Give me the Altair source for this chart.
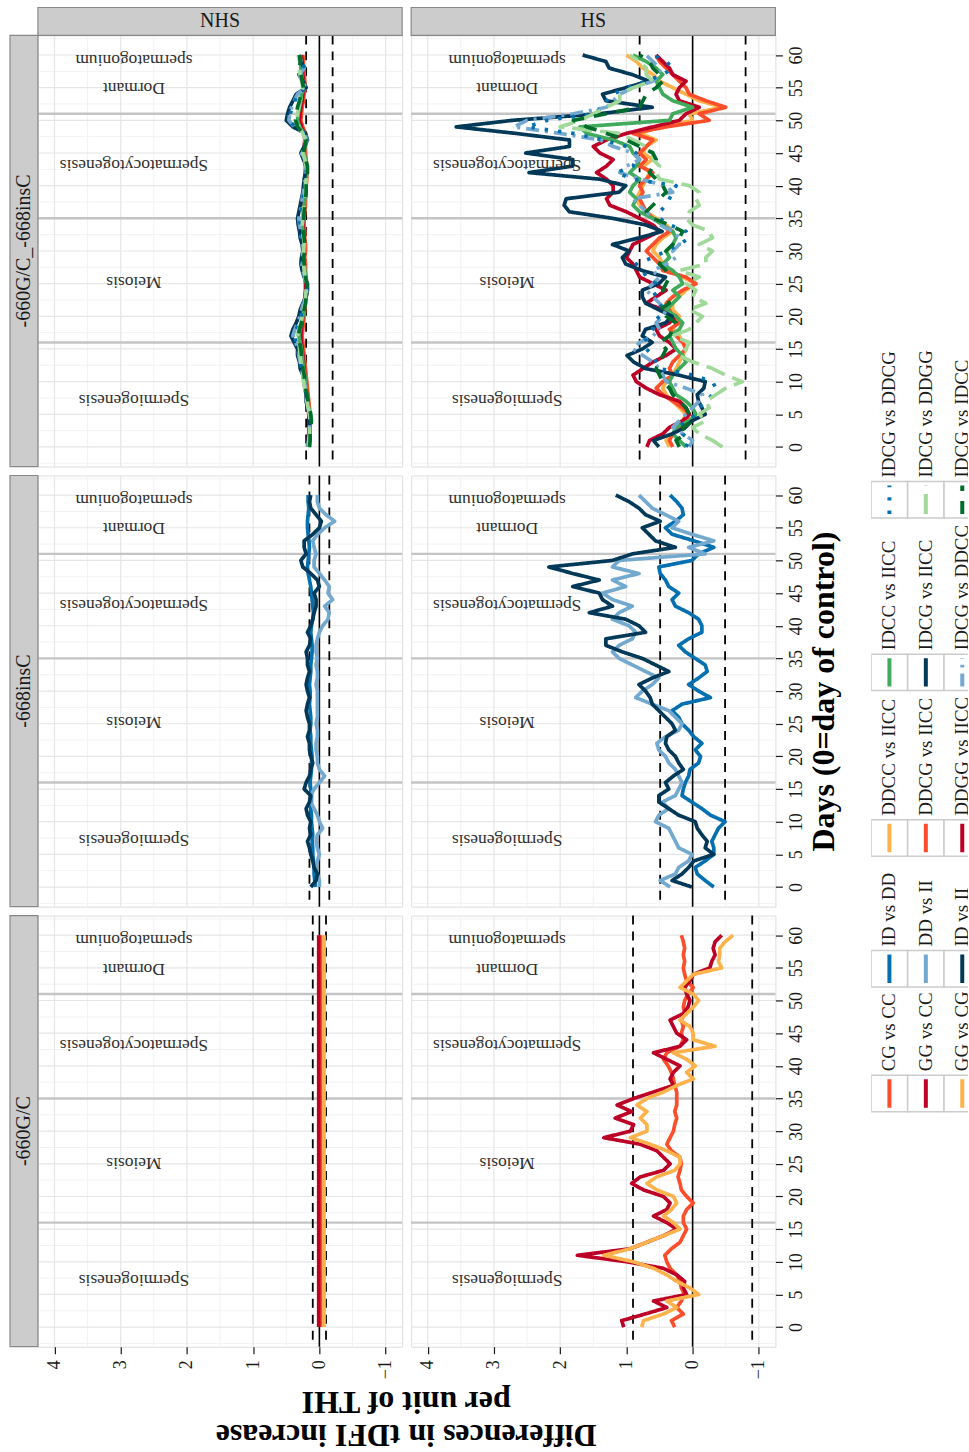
import altair as alt
import pandas as pd

FONT = "Liberation Serif"

DAYS = list(range(61))

GENOTYPES = ["-660G/C_-668insC", "-668insC", "-660G/C"]   # panel rows, top to bottom
CONDITIONS = ["NHS", "HS"]                               # panel columns, left to right

SERIES_660 = ["CG vs CC", "GG vs CC", "GG vs CG"]
SERIES_668 = ["ID vs DD", "DD vs II", "ID vs II"]
SERIES_COMBO = ["DDCC vs IICC", "DDCG vs IICC", "DDGG vs IICC", "IDCC vs IICC", "IDCG vs IICC",
                "IDCG vs DDCC", "IDCG vs DDCG", "IDCG vs DDGG", "IDCG vs IDCC"]
ALL_SERIES = SERIES_660 + SERIES_668 + SERIES_COMBO
COLORS = ["#FC4E2A", "#BD0026", "#FEB24C",
          "#0570B0", "#74A9CF", "#023858",
          "#FEB24C", "#FC4E2A", "#BD0026", "#41AB5D", "#023858",
          "#74A9CF", "#0570B0", "#A1D99B", "#006D2C"]
DASHES = [[1, 0], [1, 0], [1, 0],
          [1, 0], [1, 0], [1, 0],
          [1, 0], [1, 0], [1, 0], [1, 0], [1, 0],
          [13, 6, 3, 6], [3.4, 10], [20, 8], [13, 10]]

# ---------------- -660G/C ----------------
NHS_660_CG_CC = [-0.02, -0.02, -0.02, -0.02, -0.02, -0.02, -0.02, -0.02, -0.02, -0.02, -0.02,
                 -0.02, -0.02, -0.02, -0.02, -0.02, -0.02, -0.02, -0.02, -0.02, -0.02,
                 -0.02, -0.02, -0.02, -0.02, -0.02, -0.02, -0.02, -0.02, -0.02, -0.02,
                 -0.02, -0.02, -0.02, -0.02, -0.02, -0.02, -0.02, -0.02, -0.02, -0.02,
                 -0.02, -0.02, -0.02, -0.02, -0.02, -0.02, -0.02, -0.02, -0.02, -0.02,
                 -0.02, -0.02, -0.02, -0.02, -0.02, -0.02, -0.02, -0.02, -0.02, -0.02]
NHS_660_GG_CC = [0.01, 0.01, 0.01, 0.01, 0.01, 0.01, 0.01, 0.01, 0.01, 0.01, 0.01,
                 0.01, 0.01, 0.01, 0.01, 0.01, 0.01, 0.01, 0.01, 0.01, 0.01,
                 0.01, 0.01, 0.01, 0.01, 0.01, 0.01, 0.01, 0.01, 0.01, 0.01,
                 0.01, 0.01, 0.01, 0.01, 0.01, 0.01, 0.01, 0.01, 0.01, 0.01,
                 0.01, 0.01, 0.01, 0.01, 0.01, 0.01, 0.01, 0.01, 0.01, 0.01,
                 0.01, 0.01, 0.01, 0.01, 0.01, 0.01, 0.01, 0.01, 0.01, 0.01]
NHS_660_GG_CG = [-0.07, -0.07, -0.07, -0.07, -0.07, -0.07, -0.07, -0.07, -0.07, -0.07, -0.07,
                 -0.07, -0.07, -0.07, -0.07, -0.07, -0.07, -0.07, -0.07, -0.07, -0.07,
                 -0.07, -0.07, -0.07, -0.07, -0.07, -0.07, -0.07, -0.07, -0.07, -0.07,
                 -0.07, -0.07, -0.07, -0.07, -0.07, -0.07, -0.07, -0.07, -0.07, -0.07,
                 -0.07, -0.07, -0.07, -0.07, -0.07, -0.07, -0.07, -0.07, -0.07, -0.07,
                 -0.07, -0.07, -0.07, -0.07, -0.07, -0.07, -0.07, -0.07, -0.07, -0.07]
HS_660_CG_CC = [0.27, 0.32, 0.14, 0.24, 0.17, 0.12, 0.17, 0.19, 0.24, 0.34, 0.39,
                0.42, 0.32, 0.19, 0.14, 0.09, 0.14, 0.14, 0.09, -0.01, 0.09,
                0.17, 0.19, 0.22, 0.19, 0.17, 0.19, 0.32, 0.39, 0.34, 0.29,
                0.27, 0.24, 0.27, 0.24, 0.24, 0.24, 0.27, 0.29, 0.32, 0.37,
                0.44, 0.39, 0.19, 0.14, 0.17, 0.14, 0.17, 0.12, 0.14, 0.12,
                0.07, -0.01, 0.09, 0.12, 0.14, 0.12, 0.14, 0.12, 0.14, 0.17]
HS_660_GG_CC = [1.04, 1.07, 0.72, 0.39, 0.59, 0.09, 0.14, 0.12, 0.24, 0.44, 0.99,
                1.74, 0.94, 0.69, 0.44, 0.24, 0.39, 0.59, 0.39, 0.34, 0.44,
                0.74, 0.92, 0.79, 0.44, 0.34, 0.44, 0.54, 0.79, 1.34, 0.94,
                0.89, 1.17, 0.92, 1.14, 0.89, 0.59, 0.29, 0.34, 0.29, 0.19,
                0.39, 0.59, 0.19, 0.09, 0.24, 0.29, 0.34, 0.14, 0.07, 0.04,
                0.09, 0.12, 0.04, -0.01, -0.26, -0.29, -0.34, -0.31, -0.34, -0.44]
HS_660_GG_CG = [0.77, 0.74, 0.44, 0.24, 0.39, -0.09, 0.04, 0.24, 0.39, 0.59, 0.89,
                1.34, 0.94, 0.69, 0.44, 0.19, 0.29, 0.44, 0.32, 0.24, 0.29,
                0.54, 0.69, 0.54, 0.27, 0.19, 0.19, 0.39, 0.64, 0.94, 0.69,
                0.69, 0.79, 0.69, 0.84, 0.69, 0.44, 0.24, -0.01, 0.09, -0.04,
                0.09, 0.29, -0.34, -0.01, -0.01, 0.04, 0.19, 0.09, -0.01, -0.09,
                -0.01, 0.19, 0.09, -0.01, -0.44, -0.39, -0.41, -0.41, -0.49, -0.61]

# ---------------- -668insC ----------------
NHS_668_ID_DD = [0.06, 0.07, 0.08, 0.08, 0.09, 0.10, 0.10, 0.11, 0.10, 0.11, 0.12,
                 0.12, 0.13, 0.12, 0.12, 0.13, 0.14, 0.13, 0.12, 0.12, 0.11,
                 0.12, 0.13, 0.13, 0.14, 0.13, 0.13, 0.14, 0.15, 0.14, 0.14,
                 0.15, 0.14, 0.13, 0.13, 0.12, 0.11, 0.11, 0.12, 0.13, 0.12,
                 0.10, 0.09, 0.10, 0.11, 0.12, 0.13, 0.15, 0.17, 0.18, 0.17,
                 0.16, 0.15, 0.16, 0.17, 0.18, 0.18, 0.17, 0.16, 0.17, 0.17]
NHS_668_DD_II = [0.00, 0.00, 0.03, 0.05, 0.03, 0.00, 0.03, 0.05, 0.03, -0.05, 0.00,
                 0.03, 0.08, 0.13, 0.13, 0.08, 0.00, -0.08, 0.00, 0.03, 0.03,
                 0.05, 0.05, 0.03, 0.03, 0.05, 0.03, 0.03, 0.03, 0.03, 0.03,
                 0.05, 0.03, 0.03, 0.05, 0.03, 0.05, 0.05, 0.03, 0.00, -0.05,
                 -0.13, -0.15, -0.08, -0.20, -0.13, -0.15, -0.08, 0.00, 0.08, 0.08,
                 0.05, 0.08, 0.10, 0.03, -0.08, -0.23, -0.10, 0.00, 0.03, 0.03]
NHS_668_ID_II = [0.13, 0.05, 0.03, 0.08, 0.10, 0.13, 0.15, 0.18, 0.13, 0.15, 0.13,
                 0.18, 0.20, 0.15, 0.13, 0.23, 0.20, 0.15, 0.13, 0.10, 0.13,
                 0.15, 0.15, 0.18, 0.15, 0.15, 0.18, 0.20, 0.18, 0.15, 0.18,
                 0.20, 0.18, 0.15, 0.18, 0.18, 0.20, 0.15, 0.13, 0.18, 0.13,
                 0.10, 0.08, 0.05, 0.05, 0.08, 0.00, 0.03, 0.13, 0.25, 0.28,
                 0.20, 0.23, 0.23, 0.10, 0.00, -0.03, 0.05, 0.13, 0.15, 0.13]
HS_668_ID_DD = [-0.32, -0.19, -0.07, -0.04, -0.19, -0.32, -0.32, -0.29, -0.34, -0.39, -0.49,
                -0.27, -0.14, 0.01, 0.16, 0.14, 0.11, 0.06, 0.04, -0.09, -0.12,
                -0.04, -0.14, -0.02, 0.06, 0.16, 0.21, 0.31, 0.16, -0.27, -0.09,
                0.06, -0.09, -0.22, -0.19, -0.04, 0.11, 0.21, 0.06, -0.14, -0.14,
                -0.09, 0.06, 0.26, 0.31, 0.21, 0.36, 0.41, 0.49, 0.51, 0.01,
                -0.09, -0.32, -0.02, 0.31, 0.41, 0.26, 0.14, 0.16, 0.24, 0.34]
HS_668_DD_II = [0.34, 0.49, 0.26, 0.21, 0.06, 0.01, 0.21, 0.26, 0.31, 0.36, 0.56,
                0.51, 0.36, 0.46, 0.26, 0.21, 0.16, 0.21, 0.26, 0.36, 0.41,
                0.51, 0.54, 0.41, 0.21, 0.16, 0.26, 0.36, 0.61, 0.86, 0.76,
                0.61, 0.51, 0.71, 0.91, 1.11, 1.21, 1.11, 0.91, 0.86, 0.96,
                1.21, 1.11, 0.91, 1.21, 1.36, 1.01, 1.21, 0.81, 1.21, 1.11,
                -0.19, 0.06, -0.32, 0.01, 0.31, 0.21, 0.41, 0.61, 0.71, 0.81]
HS_668_ID_II = [0.01, 0.31, 0.16, 0.06, -0.02, -0.32, -0.19, -0.22, -0.14, -0.07, -0.04,
                0.21, 0.36, 0.51, 0.51, 0.36, 0.41, 0.29, 0.14, 0.21, 0.26,
                0.36, 0.41, 0.39, 0.26, 0.31, 0.41, 0.51, 0.61, 0.64, 0.71,
                0.81, 0.61, 0.36, 0.56, 0.76, 1.06, 1.31, 1.31, 0.71, 0.81,
                1.01, 1.56, 1.21, 1.36, 1.41, 1.81, 1.41, 1.81, 2.17, 1.21,
                0.91, 0.26, 0.56, 0.66, 0.76, 0.49, 0.71, 0.81, 0.96, 1.16]

# ---------------- -660G/C_-668insC ----------------
NHS_C_DDCC_IICC = [0.16, 0.16, 0.15, 0.15, 0.15, 0.15, 0.16, 0.17, 0.18, 0.19, 0.20,
                   0.21, 0.22, 0.23, 0.24, 0.25, 0.26, 0.27, 0.26, 0.25, 0.24,
                   0.23, 0.22, 0.21, 0.20, 0.20, 0.21, 0.22, 0.22, 0.23, 0.22,
                   0.22, 0.23, 0.23, 0.24, 0.24, 0.23, 0.22, 0.22, 0.21, 0.21,
                   0.20, 0.20, 0.20, 0.21, 0.22, 0.22, 0.21, 0.22, 0.26, 0.29,
                   0.28, 0.27, 0.25, 0.24, 0.22, 0.23, 0.24, 0.25, 0.25, 0.26]
NHS_C_DDCG_IICC = [0.15, 0.15, 0.14, 0.14, 0.14, 0.14, 0.15, 0.16, 0.17, 0.18, 0.19,
                   0.20, 0.21, 0.22, 0.23, 0.24, 0.25, 0.26, 0.25, 0.24, 0.23,
                   0.22, 0.21, 0.20, 0.19, 0.19, 0.20, 0.21, 0.21, 0.22, 0.21,
                   0.21, 0.22, 0.22, 0.23, 0.23, 0.22, 0.21, 0.21, 0.20, 0.20,
                   0.19, 0.19, 0.19, 0.20, 0.21, 0.21, 0.20, 0.21, 0.25, 0.28,
                   0.27, 0.26, 0.24, 0.23, 0.21, 0.22, 0.23, 0.24, 0.24, 0.25]
NHS_C_DDGG_IICC = [0.17, 0.17, 0.16, 0.16, 0.16, 0.16, 0.17, 0.18, 0.19, 0.20, 0.21,
                   0.22, 0.23, 0.24, 0.25, 0.26, 0.27, 0.28, 0.27, 0.26, 0.25,
                   0.24, 0.23, 0.22, 0.21, 0.21, 0.22, 0.23, 0.23, 0.24, 0.23,
                   0.23, 0.24, 0.24, 0.25, 0.25, 0.24, 0.23, 0.23, 0.22, 0.22,
                   0.21, 0.21, 0.21, 0.22, 0.23, 0.23, 0.22, 0.23, 0.27, 0.30,
                   0.29, 0.28, 0.26, 0.25, 0.23, 0.24, 0.25, 0.26, 0.26, 0.27]
NHS_C_IDCC_IICC = [0.16, 0.15, 0.15, 0.14, 0.14, 0.14, 0.16, 0.18, 0.19, 0.20, 0.21,
                   0.22, 0.24, 0.25, 0.26, 0.27, 0.29, 0.31, 0.29, 0.27, 0.25,
                   0.23, 0.22, 0.20, 0.19, 0.19, 0.21, 0.22, 0.23, 0.24, 0.23,
                   0.23, 0.24, 0.25, 0.26, 0.25, 0.24, 0.23, 0.22, 0.21, 0.21,
                   0.20, 0.19, 0.19, 0.21, 0.23, 0.22, 0.20, 0.23, 0.30, 0.33,
                   0.32, 0.30, 0.28, 0.27, 0.23, 0.25, 0.27, 0.28, 0.28, 0.29]
NHS_C_IDCG_IICC = [0.18, 0.17, 0.16, 0.15, 0.15, 0.15, 0.18, 0.20, 0.20, 0.22, 0.23,
                   0.25, 0.29, 0.30, 0.33, 0.33, 0.38, 0.43, 0.40, 0.35, 0.31,
                   0.29, 0.25, 0.20, 0.18, 0.18, 0.23, 0.26, 0.28, 0.27, 0.25,
                   0.26, 0.29, 0.30, 0.32, 0.33, 0.31, 0.29, 0.27, 0.25, 0.24,
                   0.23, 0.21, 0.20, 0.24, 0.28, 0.23, 0.18, 0.21, 0.40, 0.50,
                   0.48, 0.45, 0.40, 0.35, 0.20, 0.25, 0.31, 0.23, 0.28, 0.31]
NHS_C_IDCG_DDCC = [0.17, 0.16, 0.15, 0.15, 0.14, 0.15, 0.17, 0.19, 0.20, 0.21, 0.23,
                   0.24, 0.27, 0.29, 0.31, 0.32, 0.36, 0.40, 0.37, 0.33, 0.29,
                   0.27, 0.24, 0.20, 0.19, 0.19, 0.22, 0.25, 0.27, 0.26, 0.24,
                   0.25, 0.27, 0.28, 0.30, 0.31, 0.29, 0.27, 0.26, 0.24, 0.23,
                   0.22, 0.20, 0.20, 0.23, 0.27, 0.22, 0.19, 0.22, 0.38, 0.46,
                   0.45, 0.42, 0.38, 0.33, 0.21, 0.25, 0.30, 0.23, 0.28, 0.31]
NHS_C_IDCG_DDCG = [0.16, 0.15, 0.15, 0.14, 0.14, 0.14, 0.17, 0.19, 0.20, 0.21, 0.22,
                   0.24, 0.27, 0.28, 0.30, 0.31, 0.35, 0.38, 0.35, 0.31, 0.28,
                   0.26, 0.23, 0.20, 0.19, 0.19, 0.22, 0.24, 0.26, 0.25, 0.24,
                   0.24, 0.26, 0.27, 0.29, 0.30, 0.28, 0.26, 0.25, 0.23, 0.22,
                   0.21, 0.20, 0.19, 0.23, 0.26, 0.22, 0.19, 0.22, 0.37, 0.45,
                   0.44, 0.41, 0.37, 0.32, 0.21, 0.24, 0.29, 0.22, 0.27, 0.30]
NHS_C_IDCG_DDGG = [0.17, 0.16, 0.15, 0.15, 0.14, 0.15, 0.17, 0.19, 0.21, 0.22, 0.24,
                   0.25, 0.27, 0.28, 0.29, 0.30, 0.31, 0.33, 0.31, 0.28, 0.26,
                   0.24, 0.22, 0.21, 0.20, 0.20, 0.22, 0.23, 0.24, 0.25, 0.24,
                   0.23, 0.24, 0.25, 0.26, 0.25, 0.24, 0.23, 0.22, 0.21, 0.21,
                   0.20, 0.19, 0.20, 0.22, 0.25, 0.23, 0.21, 0.25, 0.31, 0.34,
                   0.33, 0.31, 0.29, 0.27, 0.25, 0.27, 0.29, 0.31, 0.30, 0.32]
NHS_C_IDCG_IDCC = [0.15, 0.14, 0.14, 0.13, 0.12, 0.13, 0.15, 0.17, 0.19, 0.21, 0.22,
                   0.23, 0.25, 0.26, 0.27, 0.28, 0.30, 0.32, 0.30, 0.27, 0.25,
                   0.23, 0.21, 0.20, 0.19, 0.19, 0.21, 0.22, 0.23, 0.24, 0.22,
                   0.22, 0.23, 0.24, 0.25, 0.24, 0.23, 0.22, 0.21, 0.20, 0.20,
                   0.19, 0.18, 0.18, 0.21, 0.24, 0.22, 0.20, 0.24, 0.33, 0.36,
                   0.35, 0.33, 0.30, 0.28, 0.24, 0.26, 0.28, 0.30, 0.29, 0.30]

HS_C_DDCC_IICC = [0.35, 0.40, 0.30, 0.20, 0.15, 0.10, 0.20, 0.30, 0.40, 0.45, 0.40,
                  0.30, 0.25, 0.20, 0.15, 0.10, 0.15, 0.20, 0.30, 0.25, 0.20,
                  0.30, 0.30, 0.20, 0.10, -0.05, 0.15, 0.35, 0.45, 0.50, 0.60,
                  0.55, 0.45, 0.30, 0.40, 0.55, 0.70, 0.80, 0.85, 0.80, 0.75,
                  0.70, 0.65, 0.75, 0.60, 0.75, 0.70, 0.55, 0.80, 0.50, 0.00,
                  0.05, -0.45, -0.10, 0.10, 0.30, 0.50, 0.60, 0.75, 0.85, 1.00]
HS_C_DDCG_IICC = [0.30, 0.35, 0.30, 0.20, 0.10, 0.05, 0.15, 0.30, 0.45, 0.55, 0.45,
                  0.30, 0.35, 0.30, 0.20, 0.10, 0.15, 0.25, 0.35, 0.20, 0.30,
                  0.35, 0.40, 0.30, 0.15, -0.05, 0.10, 0.45, 0.50, 0.60, 0.70,
                  0.60, 0.50, 0.35, 0.45, 0.60, 0.70, 0.75, 0.80, 0.75, 0.80,
                  0.70, 0.60, 0.80, 0.70, 0.80, 0.70, 0.60, 0.90, 0.40, -0.25,
                  -0.10, -0.50, -0.20, 0.05, 0.10, 0.20, 0.30, 0.40, 0.50, 0.55]
HS_C_DDGG_IICC = [0.69, 0.65, 0.45, 0.35, 0.15, 0.05, 0.10, 0.20, 0.50, 0.70, 0.85,
                  0.90, 0.75, 0.60, 0.40, 0.25, 0.35, 0.50, 0.55, 0.35, 0.25,
                  0.45, 0.70, 0.55, 0.40, 0.60, 0.80, 0.85, 0.90, 1.00, 0.95,
                  0.90, 0.70, 0.50, 0.60, 0.80, 1.00, 1.25, 1.30, 1.20, 1.20,
                  1.30, 1.45, 1.30, 1.20, 1.40, 1.50, 1.30, 1.00, 0.60, 0.20,
                  0.10, -0.10, 0.20, 0.25, 0.20, 0.10, 0.30, 0.35, 0.45, 0.55]
HS_C_IDCC_IICC = [0.10, 0.20, 0.30, 0.25, 0.05, -0.05, 0.00, 0.10, 0.25, 0.30, 0.35,
                  0.30, 0.20, 0.10, 0.15, 0.25, 0.30, 0.35, 0.20, 0.15, 0.25,
                  0.40, 0.30, 0.20, 0.30, 0.15, 0.20, 0.30, 0.45, 0.35, 0.40,
                  0.30, 0.25, 0.30, 0.45, 0.60, 0.80, 0.90, 0.85, 0.95, 0.90,
                  0.80, 0.95, 0.85, 0.80, 0.90, 0.95, 1.20, 1.60, 1.70, 0.35,
                  0.30, 0.00, 0.30, 0.45, 0.50, 0.55, 0.45, 0.55, 0.70, 0.90]
HS_C_IDCG_IICC = [0.51, 0.59, 0.31, 0.11, 0.01, -0.19, -0.14, -0.09, -0.07, -0.17, -0.19,
                  0.21, 0.71, 0.89, 0.99, 0.76, 0.61, 0.76, 0.71, 0.41, 0.31,
                  0.51, 0.71, 0.76, 0.76, 0.51, 0.41, 0.76, 1.01, 1.06, 0.96,
                  1.21, 0.81, 0.46, 0.71, 1.21, 1.86, 1.94, 1.91, 1.11, 1.01,
                  1.41, 2.47, 1.81, 1.81, 2.52, 1.86, 1.86, 2.67, 3.57, 2.72,
                  1.41, 0.61, 1.31, 1.36, 1.01, 0.66, 0.91, 1.26, 1.31, 1.66]
HS_C_IDCG_DDCC = [0.05, 0.00, 0.15, 0.30, 0.20, 0.10, 0.00, -0.10, -0.15, 0.10, 0.40,
                  0.45, 0.50, 0.60, 0.75, 0.90, 0.80, 0.60, 0.50, 0.55, 0.45,
                  0.40, 0.50, 0.60, 0.70, 0.60, 0.50, 0.60, 0.40, 0.25, 0.30,
                  0.20, 0.20, 0.30, 0.50, 0.60, 0.70, 0.80, 0.90, 0.30, 0.40,
                  0.80, 1.10, 1.00, 0.80, 0.90, 1.20, 1.40, 2.00, 2.70, 2.50,
                  1.80, 1.30, 1.20, 1.10, 0.90, 0.60, 0.50, 0.50, 0.60, 0.70]
HS_C_IDCG_DDCG = [0.10, 0.05, 0.15, 0.20, 0.10, -0.05, -0.10, -0.20, -0.30, -0.35, -0.30,
                  0.00, 0.50, 0.55, 0.60, 0.70, 0.75, 0.65, 0.60, 0.60, 0.50,
                  0.45, 0.50, 0.55, 0.60, 0.55, 0.70, 0.75, 0.85, 0.60, 0.40,
                  0.20, 0.05, 0.10, 0.35, 0.50, 0.50, 0.40, 0.35, 0.30, 0.25,
                  0.90, 1.15, 0.90, 0.85, 0.85, 1.00, 1.35, 1.80, 2.50, 2.20,
                  1.50, 1.35, 1.30, 1.20, 1.00, 0.70, 0.45, 0.30, 0.40, 0.60]
HS_C_IDCG_DDGG = [-0.45, -0.30, -0.10, 0.00, -0.20, -0.10, -0.25, -0.20, -0.35, -0.50, -0.75,
                  -0.50, -0.30, 0.00, 0.20, 0.10, 0.05, 0.30, 0.05, -0.05, -0.15,
                  0.05, -0.20, 0.00, -0.05, 0.10, -0.10, 0.20, -0.20, -0.20, -0.30,
                  -0.10, -0.30, -0.25, 0.00, 0.10, 0.05, -0.10, -0.05, -0.10, 0.05,
                  0.50, 0.55, 0.50, 0.60, 0.60, 0.70, 0.90, 1.10, 2.00, 1.70,
                  1.50, 1.30, 1.10, 1.10, 0.90, 0.60, 0.70, 0.70, 0.80, 0.95]
HS_C_IDCG_IDCC = [0.20, 0.25, 0.10, 0.15, 0.00, 0.05, 0.10, 0.20, 0.30, 0.35, 0.45,
                  0.50, 0.55, 0.50, 0.45, 0.40, 0.50, 0.35, 0.30, 0.25, 0.40,
                  0.50, 0.35, 0.40, 0.45, 0.40, 0.35, 0.40, 0.50, 0.45, 0.40,
                  0.30, 0.20, 0.15, 0.35, 0.60, 0.70, 0.60, 0.50, 0.40, 0.45,
                  0.55, 0.65, 0.60, 0.55, 0.60, 0.80, 1.00, 1.30, 1.60, 1.80,
                  1.30, 0.80, 0.75, 0.70, 0.55, 0.45, 0.50, 0.60, 0.65, 0.80]

# threshold (dashed lines at +/-) per panel [row][col]
THRESHOLDS = [[0.2, 0.8], [0.15, 0.49], [0.1, 0.9]]

STAGE_BOUNDS = [16, 35, 51]
STAGE_LABELS = ["Spermiogenesis", "Meiosis", "Spermatocytogenesis", "Dormant", "spermatogonium"]
STAGE_LABEL_DAYS = [7.2, 25.2, 43.2, 54.9, 59.3]
STAGE_LABEL_VALUE = 2.8

VALUE_TICKS = [-1, 0, 1, 2, 3, 4]
VALUE_MINOR = [-0.5, 0.5, 1.5, 2.5, 3.5]
DAY_TICKS = [0, 5, 10, 15, 20, 25, 30, 35, 40, 45, 50, 55, 60]
DAY_MINOR = [-2.5, 2.5, 7.5, 12.5, 17.5, 22.5, 27.5, 32.5, 37.5, 42.5, 47.5, 52.5, 57.5, 62.5]

PANEL_SERIES = {
    (0, 0): dict(zip(SERIES_COMBO, [NHS_C_DDCC_IICC, NHS_C_DDCG_IICC, NHS_C_DDGG_IICC, NHS_C_IDCC_IICC,
                                    NHS_C_IDCG_IICC, NHS_C_IDCG_DDCC, NHS_C_IDCG_DDCG, NHS_C_IDCG_DDGG,
                                    NHS_C_IDCG_IDCC])),
    (0, 1): dict(zip(SERIES_COMBO, [HS_C_DDCC_IICC, HS_C_DDCG_IICC, HS_C_DDGG_IICC, HS_C_IDCC_IICC,
                                    HS_C_IDCG_IICC, HS_C_IDCG_DDCC, HS_C_IDCG_DDCG, HS_C_IDCG_DDGG,
                                    HS_C_IDCG_IDCC])),
    (1, 0): dict(zip(SERIES_668, [NHS_668_ID_DD, NHS_668_DD_II, NHS_668_ID_II])),
    (1, 1): dict(zip(SERIES_668, [HS_668_ID_DD, HS_668_DD_II, HS_668_ID_II])),
    (2, 0): dict(zip(SERIES_660, [NHS_660_CG_CC, NHS_660_GG_CC, NHS_660_GG_CG])),
    (2, 1): dict(zip(SERIES_660, [HS_660_CG_CC, HS_660_GG_CC, HS_660_GG_CG])),
}

W, H = 365, 432
STRIP = 28
XSCALE = alt.Scale(domain=[-1.25, 4.25], reverse=True, nice=False, zero=False)
YSCALE = alt.Scale(domain=[-3, 63], nice=False, zero=False)
COLOR = alt.Color("series:N", scale=alt.Scale(domain=ALL_SERIES, range=COLORS), legend=None)
DASH = alt.StrokeDash("series:N", scale=alt.Scale(domain=ALL_SERIES, range=DASHES), legend=None)


def long_df(d):
    rows = []
    for s, vals in d.items():
        for day, v in zip(DAYS, vals):
            rows.append({"series": s, "day": day, "value": v})
    return pd.DataFrame(rows)


def one_row():
    return pd.DataFrame({"k": [0]})


def make_panel(ri, ci):
    if ri == 2:
        xaxis = alt.Axis(values=VALUE_TICKS, labelAngle=270, labelAlign="right", labelBaseline="middle",
                         labelFont=FONT, labelFontSize=18, labelColor="#1a1a1a", labelPadding=6,
                         labelOverlap=False, tickColor="#1a1a1a", tickSize=7, tickWidth=1.2,
                         domain=False, grid=False, title=None)
    else:
        xaxis = None
    if ci == 1:
        yaxis = alt.Axis(orient="right", values=DAY_TICKS, labelAngle=270, labelAlign="center",
                         labelBaseline="top", labelFont=FONT, labelFontSize=18, labelColor="#1a1a1a",
                         labelPadding=5, labelOverlap=False, tickColor="#1a1a1a", tickSize=7,
                         tickWidth=1.2, domain=False, grid=False,
                         title=("Days (0=day of control)" if ri == 1 else None),
                         titleAngle=270, titleBaseline="top", titleFont=FONT, titleFontSize=32,
                         titleFontWeight="bold", titleColor="black", titlePadding=3)
    else:
        yaxis = None
    X = alt.X("value:Q", scale=XSCALE, axis=xaxis)
    Y = alt.Y("day:Q", scale=YSCALE, axis=yaxis)

    layers = []
    layers.append(alt.Chart(pd.DataFrame({"value": VALUE_MINOR})).mark_rule(color="#F2F2F2", strokeWidth=1).encode(x=X))
    layers.append(alt.Chart(pd.DataFrame({"day": DAY_MINOR})).mark_rule(color="#F2F2F2", strokeWidth=1).encode(y=Y))
    layers.append(alt.Chart(pd.DataFrame({"value": VALUE_TICKS})).mark_rule(color="#E6E6E6", strokeWidth=1.2).encode(x=X))
    layers.append(alt.Chart(pd.DataFrame({"day": DAY_TICKS})).mark_rule(color="#E6E6E6", strokeWidth=1.2).encode(y=Y))
    layers.append(alt.Chart(pd.DataFrame({"day": STAGE_BOUNDS})).mark_rule(color="#C4C4C4", strokeWidth=2.4).encode(y=Y))
    thr = THRESHOLDS[ri][ci]
    layers.append(alt.Chart(pd.DataFrame({"value": [0]})).mark_rule(color="black", strokeWidth=1.6).encode(x=X))
    layers.append(alt.Chart(pd.DataFrame({"value": [thr, -thr]})).mark_rule(
        color="black", strokeWidth=1.8, strokeDash=[9, 7]).encode(x=X))
    layers.append(alt.Chart(long_df(PANEL_SERIES[(ri, ci)])).mark_line(
        strokeWidth=3.7, strokeJoin="round").encode(
        x=X, y=Y, color=COLOR, strokeDash=DASH, order=alt.Order("day:Q")))
    layers.append(alt.Chart(pd.DataFrame({"value": [STAGE_LABEL_VALUE] * len(STAGE_LABELS),
                                          "day": STAGE_LABEL_DAYS, "label": STAGE_LABELS})).mark_text(
        angle=180, font=FONT, fontSize=17.5, color="#303030", align="center", baseline="middle").encode(
        x=X, y=Y, text="label:N"))
    if ri == 0:
        layers.append(alt.Chart(one_row()).mark_rect(fill="#CCCCCC", stroke="#888888", strokeWidth=1.2).encode(
            x=alt.value(0), x2=alt.value(W), y=alt.value(-STRIP), y2=alt.value(0)))
        layers.append(alt.Chart(one_row()).mark_text(font=FONT, fontSize=20, color="#1a1a1a",
                                                     align="center", baseline="middle").encode(
            x=alt.value(W / 2), y=alt.value(-STRIP / 2), text=alt.value(CONDITIONS[ci])))
    if ci == 0:
        layers.append(alt.Chart(one_row()).mark_rect(fill="#CCCCCC", stroke="#888888", strokeWidth=1.2).encode(
            x=alt.value(-STRIP), x2=alt.value(0), y=alt.value(0), y2=alt.value(H)))
        layers.append(alt.Chart(one_row()).mark_text(font=FONT, fontSize=20, color="#1a1a1a", angle=270,
                                                     align="center", baseline="middle").encode(
            x=alt.value(-STRIP / 2), y=alt.value(H / 2), text=alt.value(GENOTYPES[ri])))
    if ri == 2 and ci == 0:
        for txt, yy in [("per unit of THI", 487), ("Differences in tDFI increase", 520)]:
            layers.append(alt.Chart(one_row()).mark_text(font=FONT, fontSize=32, fontWeight="bold",
                                                         color="black", angle=180, align="center",
                                                         baseline="middle").encode(
                x=alt.value(369), y=alt.value(yy), text=alt.value(txt)))
    return alt.layer(*layers).properties(width=W, height=H)


panels = [make_panel(ri, ci) for ri in range(3) for ci in range(2)]
grid = alt.concat(*panels, columns=2, spacing=9, bounds="flush")

# ---------------- legend (drawn by hand, rotated like the figure) ----------------
LEG_W, LEG_H = 97, 1315
KEY = 36.5
GROUP_TOP = [1042, 917, 786, 620, 447]
leg_rows = []
for i, s in enumerate(ALL_SERIES):
    g, r = i // 3, i % 3
    top = GROUP_TOP[g]
    leg_rows.append({"series": s, "bx": r * KEY, "bx2": (r + 1) * KEY, "by": top, "by2": top + KEY,
                     "kx": r * KEY + KEY / 2, "ky1": top + KEY - 4, "ky2": top + 4, "ty": top - 4})
leg_df = pd.DataFrame(leg_rows)
leg_base = alt.Chart(leg_df)
leg_box = leg_base.mark_rect(fill="white", stroke="#CCCCCC", strokeWidth=1.5, clip=True).encode(
    x=alt.X("bx:Q", scale=None, axis=None), x2="bx2:Q",
    y=alt.Y("by:Q", scale=None, axis=None), y2="by2:Q")
leg_key = leg_base.mark_rule(strokeWidth=4, clip=True).encode(
    x=alt.X("kx:Q", scale=None, axis=None),
    y=alt.Y("ky1:Q", scale=None, axis=None), y2="ky2:Q",
    color=COLOR, strokeDash=DASH)
leg_txt = leg_base.mark_text(font=FONT, fontSize=19, color="#1a1a1a", angle=270, align="left",
                             baseline="middle", clip=True).encode(
    x=alt.X("kx:Q", scale=None, axis=None), y=alt.Y("ty:Q", scale=None, axis=None), text="series:N")
legend = alt.layer(leg_box, leg_key, leg_txt).properties(
    width=LEG_W, height=LEG_H, view=alt.ViewBackground(stroke="transparent"))

chart = alt.hconcat(grid, legend, spacing=30, bounds="full").properties(
    padding={"left": 8, "top": 4, "right": 0, "bottom": 0}
).configure_view(stroke="#888888", strokeWidth=1.2).configure(font=FONT)

chart.save("out.html", embed_options={"renderer": "svg", "actions": False})
